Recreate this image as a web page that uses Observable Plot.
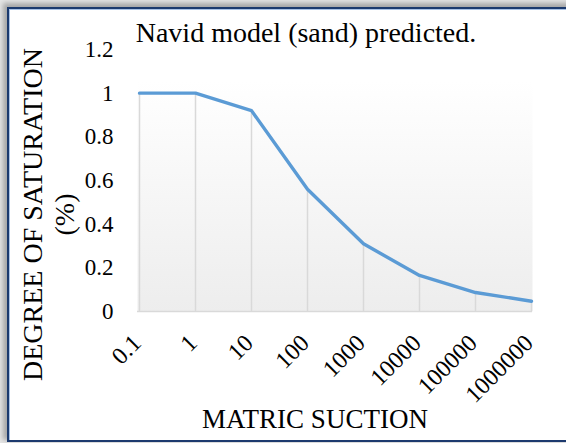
<!DOCTYPE html>
<html>
<head>
<meta charset="utf-8">
<script src="https://cdn.jsdelivr.net/npm/d3@7"></script>
<script src="https://cdn.jsdelivr.net/npm/@observablehq/plot@0.6"></script>
<style>
  html, body { margin: 0; padding: 0; background: #fff; }
  #wrap { position: relative; width: 566px; height: 443px; overflow: hidden; background: #e6e6e6; }
  #box {
    position: absolute; left: 7px; top: 7px; width: 600px; height: 431px;
    border: 2px solid #1c3a6e; background: #fff;
    box-shadow: -3px -3px 5px 1px rgba(0,0,0,0.28), inset 1px 1px 0 #a9c2e6;
  }
  #chart { position: absolute; left: 0; top: 0; }
</style>
</head>
<body>
<div id="wrap"><div id="box"></div><div id="chart"></div></div>
<script>
// ---- data ----
const suction = ["0.1", "1", "10", "100", "1000", "10000", "100000", "1000000"];
const saturation = [1.0, 1.0, 0.92, 0.56, 0.31, 0.165, 0.087, 0.047];
const yTicks = [0, 0.2, 0.4, 0.6, 0.8, 1, 1.2];
const titleText = "Navid model (sand) predicted.";
const xLabel = "MATRIC SUCTION";
const yLabel = "DEGREE OF SATURATION\n(%)";

const data = suction.map((s, i) => ({s, v: saturation[i]}));
const serif = "'Liberation Serif', 'DejaVu Serif', serif";

const plot = Plot.plot({
  width: 566, height: 443,
  marginLeft: 137, marginRight: 34, marginTop: 49, marginBottom: 132,
  style: {fontFamily: serif, background: "transparent", color: "#000", overflow: "visible"},
  x: {type: "point", domain: suction, padding: 0, axis: null},
  y: {domain: [0, 1.2], axis: null},
  marks: [
    Plot.frame({fill: "url(#pa-grad)", stroke: "none"}),
    Plot.ruleX(data, {x: "s", y1: 0, y2: "v", stroke: "#d9d9d9", strokeWidth: 1.5}),
    Plot.ruleY([0], {stroke: "#d9d9d9", strokeWidth: 1.5}),
    Plot.line(data, {x: "s", y: "v", stroke: "#5b9bd5", strokeWidth: 3.4, strokeLinejoin: "round", strokeLinecap: "round"}),
    Plot.text(yTicks, {y: d => d, text: d => String(d), frameAnchor: "left", textAnchor: "end", dx: -24, fontSize: 23, fill: "#000"}),
    Plot.text(suction, {x: d => d, text: d => d, frameAnchor: "bottom", rotate: -45, textAnchor: "end", lineAnchor: "bottom", dx: 3, dy: 33, fontSize: 24, fill: "#000"}),
    Plot.text([titleText], {text: d => d, frameAnchor: "top", lineAnchor: "bottom", dx: -29, dy: -8, fontSize: 28, fill: "#000"}),
    Plot.text([xLabel], {text: d => d, frameAnchor: "bottom", lineAnchor: "bottom", dx: -20, dy: 116, fontSize: 27, fill: "#000"}),
    Plot.text([yLabel], {text: d => d, frameAnchor: "left", rotate: -90, textAnchor: "middle", lineAnchor: "bottom", lineHeight: 1.12, fontSize: 28, dx: -64, dy: 34, fill: "#000"})
  ]
});

const svg = d3.select(plot);
const grad = svg.insert("defs", ":first-child")
  .append("linearGradient").attr("id", "pa-grad")
  .attr("x1", 0).attr("y1", 0).attr("x2", 0).attr("y2", 1);
grad.append("stop").attr("offset", "0").attr("stop-color", "#ffffff");
grad.append("stop").attr("offset", "0.12").attr("stop-color", "#ffffff");
grad.append("stop").attr("offset", "1").attr("stop-color", "#ededed");

document.getElementById("chart").appendChild(plot);
</script>
</body>
</html>
